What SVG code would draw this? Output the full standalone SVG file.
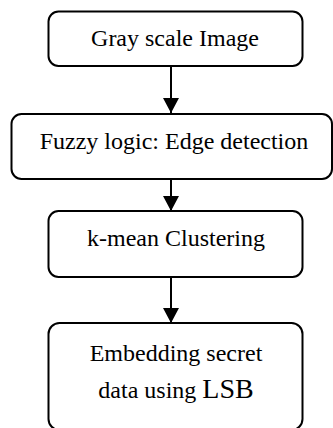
<svg xmlns="http://www.w3.org/2000/svg" width="333" height="428" viewBox="0 0 333 428">
<style>
.box{fill:#fff;stroke:#000;stroke-width:2}
.t{font-family:"Liberation Serif","Times New Roman",serif;font-size:24px;fill:#000;text-anchor:middle}
.c{stroke:#000;stroke-width:2;fill:none}
</style>
<defs>
<marker id="ah" markerUnits="userSpaceOnUse" markerWidth="15" markerHeight="16" viewBox="0 0 15 16" refX="15" refY="8" orient="auto" overflow="visible">
<path d="M0,0 L15,8 L0,16 Z" fill="#000"/>
</marker>
</defs>
<rect width="333" height="428" fill="#fff"/>
<g id="connectors">
<line class="c" x1="171" y1="67" x2="171" y2="113" marker-end="url(#ah)"/>
<line class="c" x1="171" y1="180" x2="171" y2="211" marker-end="url(#ah)"/>
<line class="c" x1="171" y1="278" x2="171" y2="323" marker-end="url(#ah)"/>
</g>
<g id="n1">
<rect class="box" x="48.5" y="11.5" width="254" height="54.5" rx="10"/>
<text class="t" x="175" y="46">Gray scale Image</text>
</g>
<g id="n2">
<rect class="box" x="11.5" y="114" width="320.5" height="65" rx="10"/>
<text class="t" x="174" y="149">Fuzzy logic: Edge detection</text>
</g>
<g id="n3">
<rect class="box" x="48.5" y="211" width="254" height="66" rx="10"/>
<text class="t" x="176" y="246">k-mean Clustering</text>
</g>
<g id="n4">
<rect class="box" x="48.5" y="323" width="254" height="107" rx="11"/>
<text class="t" x="176" y="361">Embedding secret</text>
<text class="t" x="176" y="398">data using <tspan font-size="28">LSB</tspan></text>
</g>
</svg>
